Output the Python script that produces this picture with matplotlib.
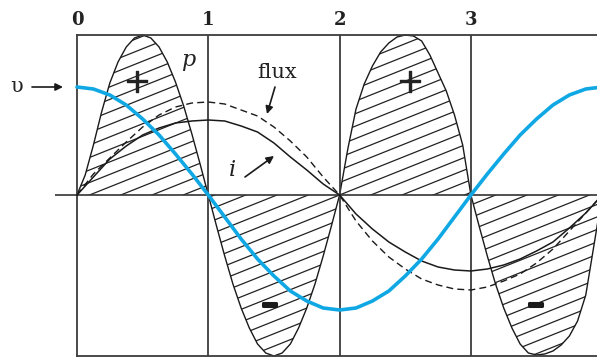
import numpy as np
import matplotlib
matplotlib.use('Agg')
import matplotlib.pyplot as plt
from matplotlib.patches import Polygon
from matplotlib.collections import LineCollection
import matplotlib.patheffects as pe

# x positions (in periods of the grid: 0..4)
x_coarse = np.arange(33) / 8.0
x_fine = np.arange(65) / 16.0

# voltage v (blue), current i (solid), flux (dashed), pixel units above the axis
v_vals = [108, 106, 100, 90, 76, 60, 41, 21, 0,
          -22, -44, -64, -81, -96, -106, -113, -115,
          -113, -106, -96, -81, -64, -44, -22, 0,
          21, 41, 60, 76, 90, 100, 106, 108]
i_vals = [0, 18, 36, 49, 60, 67, 72, 74, 75,
          74, 69, 63, 52, 38, 25, 11, 0,
          -19, -34, -47, -57, -66, -72, -75, -76,
          -74, -70, -64, -56, -47, -33, -18, 0]
flux_vals = [0, 21, 37, 53, 68, 80, 88, 92, 93,
             91, 85, 79, 68, 54, 38, 18, 0,
             -26, -46, -62, -74, -84, -90, -94, -95,
             -92, -86, -79, -68, -54, -36, -18, 0]
# power p (hatched)
p_vals = [0, 20, 50, 83, 112, 133, 148, 157, 160, 157, 148, 133, 113, 89, 61, 31,
          0, -31, -61, -89, -113, -133, -149, -158, -161, -158, -149, -133, -113, -89, -61, -31,
          0, 46, 86, 111, 129, 143, 152, 158, 160, 159, 154, 140, 122, 104, 80, 50,
          0, -31, -61, -89, -113, -133, -149, -158, -160, -159, -156, -150, -141, -126, -100, -50, 0]

tick_labels = ['0', '1', '2', '3', '4']

X0, UNIT, AX_Y = 77, 131.3, 195   # pixel layout of the drawing


def px(x, y):
    # pixel position in the picture -> data coords
    return (x - X0) / UNIT, AX_Y - y


fig = plt.figure(figsize=(5.97, 3.57), dpi=100)
ax = fig.add_axes([0, 0, 1, 1])
ax.set_xlim(-X0 / UNIT, (597 - X0) / UNIT)
ax.set_ylim(AX_Y - 357, AX_Y)
ax.axis('off')

top, bottom = AX_Y - 35, AX_Y - 356
frame_c = '#3c3c3c'

# hatching clipped to the p lobes
verts = list(zip(x_fine, p_vals)) + [(4, 0), (0, 0)]
clip = Polygon(verts, closed=True, facecolor='none', edgecolor='none', transform=ax.transData)
ax.add_patch(clip)
slope = 0.4 * UNIT
segs = []
for c in np.arange(-380, 170, 12.5):
    segs.append([(-0.2, c - 0.2 * slope), (4.2, c + 4.2 * slope)])
hatch = LineCollection(segs, colors='#222222', linewidths=0.9)
ax.add_collection(hatch)
hatch.set_clip_path(clip)

ax.plot(x_fine, p_vals, color='#1a1a1a', lw=1.0)

# frame and grid
ax.plot([0, 0], [bottom, top], color=frame_c, lw=1.3)
ax.plot([0, 4.2], [top, top], color=frame_c, lw=1.3)
ax.plot([0, 4.2], [bottom, bottom], color=frame_c, lw=1.3)
ax.vlines([1, 2, 3], bottom, top, color=frame_c, lw=1.3)
ax.hlines(0, (55 - X0) / UNIT, 4.2, color='#333333', lw=1.2)

ax.plot(x_coarse, i_vals, color='#1a1a1a', lw=1.1)
ax.plot(x_coarse, flux_vals, color='#1a1a1a', lw=1.0, ls=(0, (5, 3)))
ax.plot(x_coarse, v_vals, color='#10a8e4', lw=2.6, solid_capstyle='round')

for k, lab in enumerate(tick_labels):
    ax.text(k, px(0, 20)[1], lab, ha='center', va='center', fontsize=13,
            fontweight='bold', family='DejaVu Serif', color='#222222')

txt = dict(family='DejaVu Serif', color='#222222')
ax.text(*px(17, 86), 'υ', ha='center', va='center', fontsize=15, **txt)
ax.text(*px(188, 60), 'p', ha='center', va='center', fontsize=16, style='italic', **txt)
ax.text(*px(277, 73), 'flux', ha='center', va='center', fontsize=15, **txt)
ax.text(*px(232, 170), 'i', ha='center', va='center', fontsize=16, style='italic', **txt)

arrow = dict(arrowstyle='-|>', color='#1a1a1a', lw=1.2, mutation_scale=11, shrinkA=0, shrinkB=0)
ax.annotate('', xy=px(63, 87), xytext=px(32, 87), arrowprops=arrow)
ax.annotate('', xy=px(267, 114), xytext=px(275, 87), arrowprops=arrow)
ax.annotate('', xy=px(274, 156), xytext=px(245, 177), arrowprops=arrow)

for cx in (137, 410):
    ax.text(*px(cx, 82), '+', ha='center', va='center', fontsize=24, color='#222222',
            family='DejaVu Sans',
            path_effects=[pe.withStroke(linewidth=1.0, foreground='#222222')])
for cx in (270, 536):
    ax.text(*px(cx, 305), '\u2212', ha='center', va='center', fontsize=15, fontweight='bold',
            color='#1a1a1a', family='DejaVu Sans',
            path_effects=[pe.withStroke(linewidth=2.2, foreground='#1a1a1a')])

fig.savefig('out.png', dpi=100)
